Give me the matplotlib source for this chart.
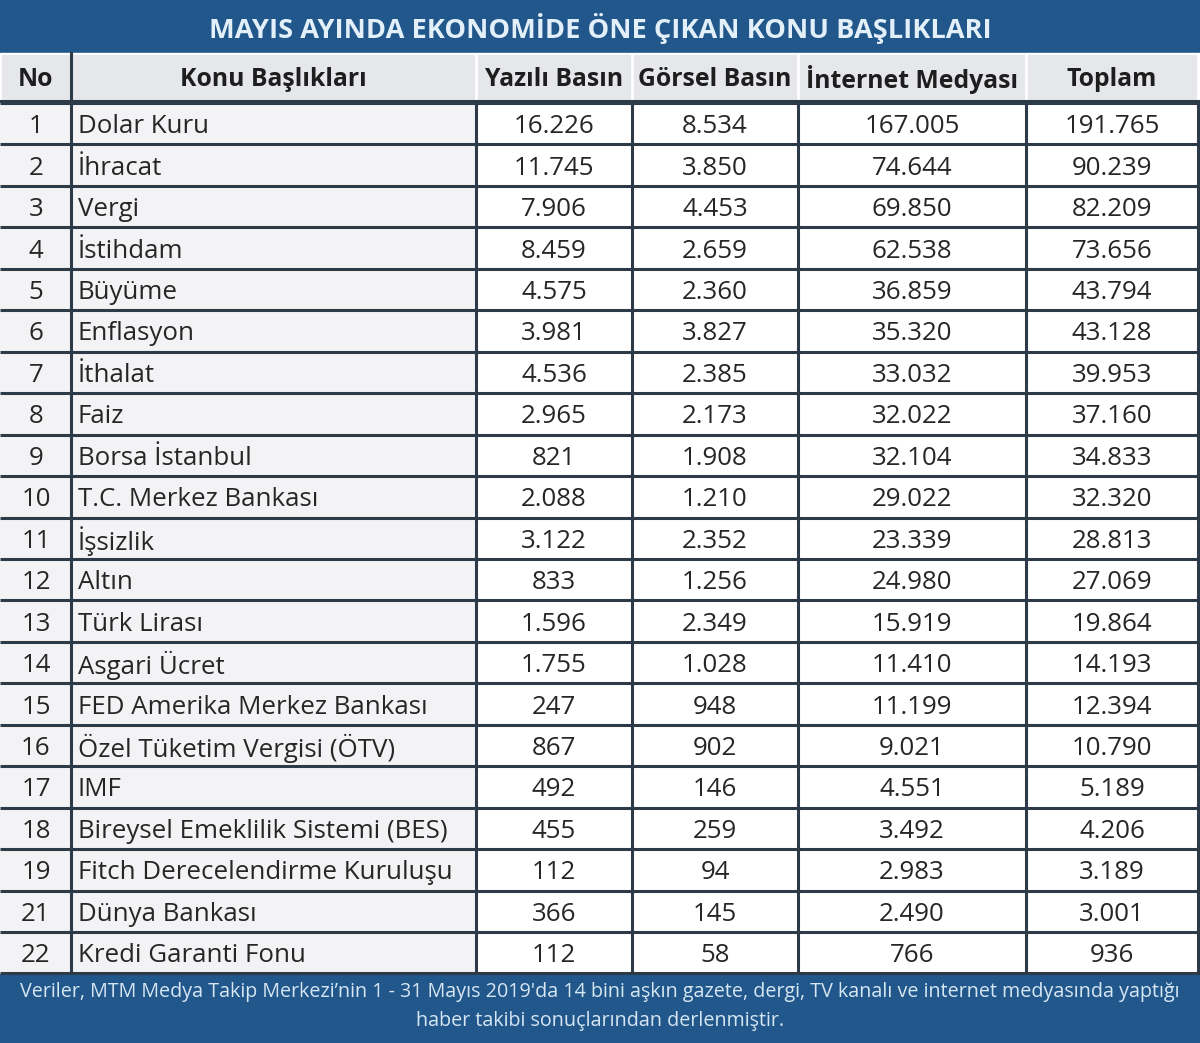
import matplotlib
matplotlib.use("Agg")
import matplotlib.pyplot as plt
from matplotlib.patches import Rectangle

# Table content
title = "MAYIS AYINDA EKONOMİDE ÖNE ÇIKAN KONU BAŞLIKLARI"
headers = ["No", "Konu Başlıkları", "Yazılı Basın", "Görsel Basın",
           "İnternet Medyası", "Toplam"]
row_no = [1, 2, 3, 4, 5, 6, 7, 8, 9, 10, 11, 12, 13, 14, 15, 16, 17, 18,
          19, 21, 22]
topics = ["Dolar Kuru", "İhracat", "Vergi", "İstihdam", "Büyüme",
          "Enflasyon", "İthalat", "Faiz", "Borsa İstanbul",
          "T.C. Merkez Bankası", "İşsizlik", "Altın", "Türk Lirası",
          "Asgari Ücret", "FED Amerika Merkez Bankası",
          "Özel Tüketim Vergisi (ÖTV)", "IMF",
          "Bireysel Emeklilik Sistemi (BES)",
          "Fitch Derecelendirme Kuruluşu", "Dünya Bankası",
          "Kredi Garanti Fonu"]
yazili = ["16.226", "11.745", "7.906", "8.459", "4.575", "3.981", "4.536",
          "2.965", "821", "2.088", "3.122", "833", "1.596", "1.755", "247",
          "867", "492", "455", "112", "366", "112"]
gorsel = ["8.534", "3.850", "4.453", "2.659", "2.360", "3.827", "2.385",
          "2.173", "1.908", "1.210", "2.352", "1.256", "2.349", "1.028",
          "948", "902", "146", "259", "94", "145", "58"]
internet = ["167.005", "74.644", "69.850", "62.538", "36.859", "35.320",
            "33.032", "32.022", "32.104", "29.022", "23.339", "24.980",
            "15.919", "11.410", "11.199", "9.021", "4.551", "3.492",
            "2.983", "2.490", "766"]
toplam = ["191.765", "90.239", "82.209", "73.656", "43.794", "43.128",
          "39.953", "37.160", "34.833", "32.320", "28.813", "27.069",
          "19.864", "14.193", "12.394", "10.790", "5.189", "4.206",
          "3.189", "3.001", "936"]
footer = ["Veriler, MTM Medya Takip Merkezi’nin 1 - 31 Mayıs 2019'da 14 bini aşkın gazete, dergi, TV kanalı ve internet medyasında yaptığı",
          "haber takibi sonuçlarından derlenmiştir."]

# Layout in pixels
W, H = 1200, 1043
col_edges = [0, 71, 476, 632, 798, 1026, 1198]
title_bottom = 53
head_top, head_bottom = 55, 101
row_top = 103
row_h = 41.45
footer_top = row_top + row_h * len(topics)

navy = "#21578a"
grid = "#2d3b49"
text_c = "#262626"
font = "Open Sans"

fig = plt.figure(figsize=(W / 100, H / 100), dpi=100)
ax = fig.add_axes([0, 0, 1, 1])
ax.set_xlim(0, W)
ax.set_ylim(H, 0)
ax.axis("off")

# Title and footer bands
ax.add_patch(Rectangle((0, 0), W, title_bottom, color=navy, zorder=1))
ax.add_patch(Rectangle((0, footer_top), W, H - footer_top, color=navy, zorder=1))
ax.text(W / 2, title_bottom / 2 + 2, title, ha="center", va="center",
        fontsize=19.6, fontweight="bold", color="#e3f0fa", family=font)

# Header row
ax.add_patch(Rectangle((0, title_bottom), W, head_bottom - title_bottom,
                       color="white", zorder=1))
for i in range(len(headers)):
    x0, x1 = col_edges[i], col_edges[i + 1]
    ax.add_patch(Rectangle((x0 + 2, head_top), x1 - x0 - 4,
                           head_bottom - head_top, color="#e6e7ea", zorder=2))
    ax.text((x0 + x1) / 2, (head_top + head_bottom) / 2 + 2, headers[i],
            ha="center", va="center", fontsize=17.8, fontweight="bold",
            color="#1e1e1e", family=font, zorder=3)

# Data rows
cols = [yazili, gorsel, internet, toplam]
for r in range(len(topics)):
    y0 = row_top + r * row_h
    yc = y0 + row_h / 2 + 3
    ax.add_patch(Rectangle((0, y0), col_edges[2], row_h, color="#f3f3f5",
                           zorder=1))
    ax.add_patch(Rectangle((col_edges[2], y0), W - col_edges[2], row_h,
                           color="white", zorder=1))
    ax.text(36, yc, str(row_no[r]), ha="center", va="center", fontsize=18.6,
            color=text_c, family=font, zorder=3)
    ax.text(78, yc, topics[r], ha="left", va="center", fontsize=18.6,
            color=text_c, family=font, zorder=3)
    for c, vals in enumerate(cols):
        xc = (col_edges[c + 2] + col_edges[c + 3]) / 2
        ax.text(xc, yc, vals[r], ha="center", va="center", fontsize=18.6,
                color=text_c, family=font, zorder=3)

# Grid lines
for r in range(len(topics) + 1):
    y = row_top + r * row_h
    ax.plot([0, W], [y, y], color=grid, lw=2.2, zorder=4,
            solid_capstyle="butt")
ax.plot([0, W], [head_bottom, head_bottom], color=grid, lw=2.2, zorder=4)
for x in col_edges[1:-1]:
    ax.plot([x, x], [row_top, footer_top], color=grid, lw=2.2, zorder=4,
            solid_capstyle="butt")
ax.plot([col_edges[1], col_edges[1]], [title_bottom, row_top], color=grid,
        lw=2.2, zorder=4)
ax.plot([col_edges[-1], col_edges[-1]], [row_top, footer_top], color=grid,
        lw=2.2, zorder=4)

# Footer text
ax.text(W / 2, footer_top + 19, footer[0], ha="center", va="center",
        fontsize=14.2, color="#d6e6f3", family=font)
ax.text(W / 2, footer_top + 48, footer[1], ha="center", va="center",
        fontsize=14.2, color="#d6e6f3", family=font)

fig.savefig("out.png", dpi=100)
